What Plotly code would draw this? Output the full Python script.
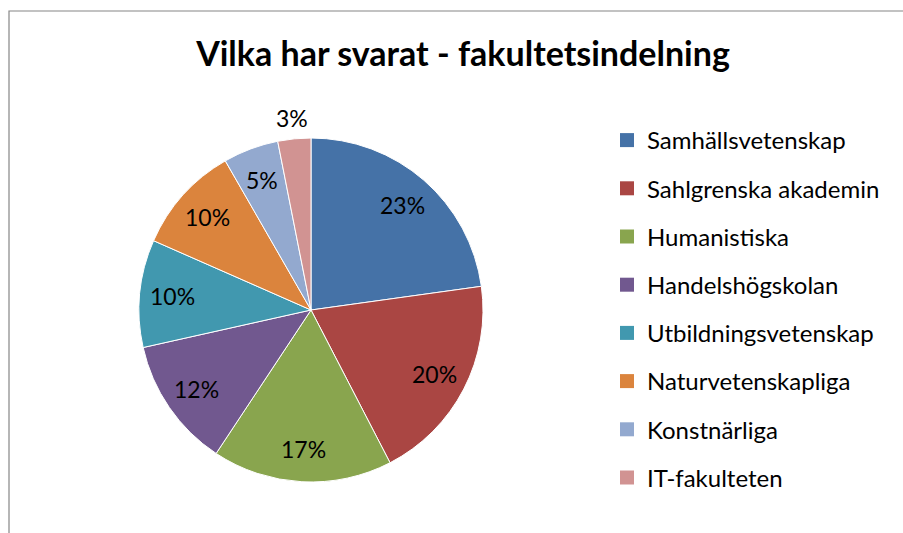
import math
import plotly.graph_objects as go

labels = ["Samhällsvetenskap", "Sahlgrenska akademin", "Humanistiska", "Handelshögskolan",
          "Utbildningsvetenskap", "Naturvetenskapliga", "Konstnärliga", "IT-fakulteten"]
shares = [22.8, 19.6, 16.9, 12.2, 10.1, 10.1, 5.2, 3.1]
colors = ["#4572A7", "#AA4643", "#89A54E", "#71588F", "#4198AF", "#DB843D", "#93A9CF", "#D19392"]
title_text = "Vilka har svarat - fakultetsindelning"

W, H = 903, 533
cx, cy, R = 311, 310, 172
font = "Lato"

fig = go.Figure()
fig.add_trace(go.Pie(
    labels=labels, values=shares, sort=False, direction="clockwise", rotation=0,
    marker=dict(colors=colors, line=dict(color="white", width=1)),
    textinfo="none",
    showlegend=False, hoverinfo="label+percent",
    domain=dict(x=[(cx - R) / W, (cx + R) / W], y=[(H - cy - R) / H, (H - cy + R) / H]),
))
for i, (lab, col) in enumerate(zip(labels, colors)):
    fig.add_trace(go.Scatter(
        x=[None], y=[None], mode="markers", name=lab, legendgroup=str(i),
        marker=dict(symbol="square", size=14, color=col),
    ))

# percentage labels placed at each slice's mid-angle (Excel-style)
total = sum(shares)
annotations = []
cum = 0.0
for v in shares:
    frac = v / total
    mid = (cum + frac / 2) * 2 * math.pi
    cum += frac
    rr = 0.81 * R if frac > 0.04 else 1.12 * R
    px = cx + rr * math.sin(mid)
    py = cy - rr * math.cos(mid)
    annotations.append(dict(
        x=px / W, y=(H - py) / H, xref="paper", yref="paper",
        text=f"{round(frac * 100):d}%", showarrow=False,
        xanchor="center", yanchor="middle",
        font=dict(family=font, size=23, color="black"),
    ))

fig.update_layout(
    width=W, height=H, margin=dict(l=0, r=0, t=0, b=0),
    paper_bgcolor="white", plot_bgcolor="white",
    xaxis=dict(visible=False), yaxis=dict(visible=False),
    title=dict(text="<b>" + title_text + "</b>", x=463 / W, y=(H - 54) / H,
               xanchor="center", yanchor="middle",
               font=dict(family=font, size=34, color="black")),
    legend=dict(x=607 / W, y=(H - 118) / H, xanchor="left", yanchor="top",
                font=dict(family=font, size=24, color="black"),
                tracegroupgap=14, itemsizing="trace", bgcolor="rgba(0,0,0,0)"),
    annotations=annotations,
    shapes=[dict(type="rect", xref="paper", yref="paper",
                 x0=9 / W, x1=1.2, y0=-0.2, y1=(H - 11) / H,
                 line=dict(color="#868686", width=1.2), layer="below")],
)
fig.write_html("out.html", config={"displayModeBar": False})

with open("out.html", encoding="utf-8") as f:
    html = f.read()
html = html.replace("<body>", '<body style="margin:0;padding:0;overflow:hidden">', 1)
html = html.replace("<head>", "<head><style>html,body{margin:0;padding:0;}</style>", 1)
with open("out.html", "w", encoding="utf-8") as f:
    f.write(html)
